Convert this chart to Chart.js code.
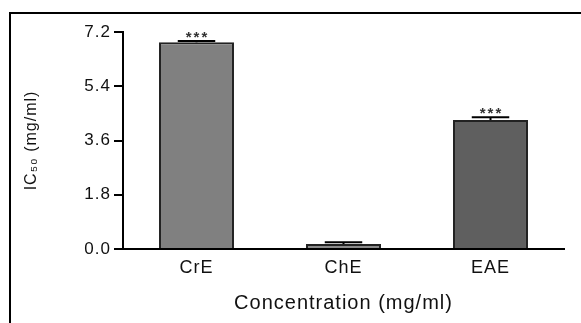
<!DOCTYPE html>
<html>
<head>
<meta charset="utf-8">
<script src="https://cdn.jsdelivr.net/npm/chart.js@4/dist/chart.umd.min.js"></script>
<style>
  html, body { margin: 0; padding: 0; background: #fff; overflow: hidden; }
  .frame { position: absolute; left: 9px; top: 12px; width: 620px; height: 400px; border: 2px solid #000; }
  .wrap { position: absolute; left: 0; top: 0; width: 581px; height: 323px; }
</style>
</head>
<body>
<div class="frame"></div>
<div class="wrap"><canvas id="ic50-chart" width="581" height="323"></canvas></div>
<script>
let extracts = ['CrE', 'ChE', 'EAE'];
let ic50_values = [6.86, 0.17, 4.28];
let ic50_errors = [0.04, 0.05, 0.09];
let significance = ['***', '', '***'];
let y_ticks = [0, 1.8, 3.6, 5.4, 7.2];
let bar_colors = ['#808080', '#8c8c8c', '#5f5f5f'];

let FONT = 'Liberation Sans, Arial, sans-serif';
let TEXT_COLOR = '#111';

// the original lettering is a bit wider than plain Arial
let wide_text = {
    id: 'wideText',
    beforeLayout: function(chart) { chart.ctx.letterSpacing = '1px'; },
    beforeDraw: function(chart) { chart.ctx.letterSpacing = '1px'; }
};

// draws the SEM caps and the *** markers above the bars
let error_bars = {
    id: 'errorBars',
    afterDatasetsDraw: function(chart) {
        let ctx = chart.ctx;
        let y = chart.scales.y;
        let meta = chart.getDatasetMeta(0);
        ctx.save();
        ctx.strokeStyle = '#000';
        ctx.fillStyle = '#333';
        ctx.lineWidth = 2;
        meta.data.forEach(function(bar, i) {
            let top = y.getPixelForValue(ic50_values[i] + ic50_errors[i]);
            let half = bar.width / 4;
            ctx.beginPath();
            ctx.moveTo(bar.x, bar.y);
            ctx.lineTo(bar.x, top);
            ctx.moveTo(bar.x - half, top);
            ctx.lineTo(bar.x + half, top);
            ctx.stroke();
            if (significance[i]) {
                ctx.font = 'bold 15px ' + FONT;
                ctx.letterSpacing = '2px';
                ctx.textAlign = 'center';
                ctx.textBaseline = 'middle';
                ctx.fillText(significance[i], bar.x + 1, top - 3);
            }
        });
        ctx.restore();
    }
};

window.onload = function() {
    let chart_element = document.getElementById('ic50-chart');
    new Chart(chart_element, {
        type: 'bar',
        plugins: [wide_text, error_bars],
        data: {
            labels: extracts,
            datasets: [{
                data: ic50_values,
                backgroundColor: bar_colors,
                borderColor: '#222',
                borderWidth: 2,
                barPercentage: 0.51,
                categoryPercentage: 1.0
            }]
        },
        options: {
            responsive: false,
            animation: false,
            layout: { padding: { top: 32, right: 17, bottom: 0, left: 0 } },
            plugins: {
                legend: { display: false },
                tooltip: { enabled: false }
            },
            scales: {
                x: {
                    grid: { display: false, drawTicks: true, tickLength: 8 },
                    border: { display: true, color: '#000', width: 2 },
                    ticks: { color: TEXT_COLOR, padding: 0, font: { family: FONT, size: 18 } },
                    title: {
                        display: true,
                        text: 'Concentration (mg/ml)',
                        color: TEXT_COLOR,
                        font: { family: FONT, size: 20 },
                        padding: { top: 0, bottom: 8 }
                    },
                    afterFit: function(scale) { scale.height = 74; }
                },
                y: {
                    min: 0,
                    max: 7.2,
                    afterBuildTicks: function(scale) {
                        scale.ticks = y_ticks.map(function(v) { return { value: v }; });
                    },
                    grid: { drawOnChartArea: false, drawTicks: true, tickLength: 9, color: '#000', lineWidth: 2 },
                    border: { display: true, color: '#000', width: 2 },
                    ticks: {
                        color: TEXT_COLOR,
                        padding: 3,
                        font: { family: FONT, size: 17 },
                        callback: function(v) { return Number(v).toFixed(1); }
                    },
                    title: {
                        display: true,
                        text: 'IC\u2085\u2080 (mg/ml)',
                        color: TEXT_COLOR,
                        font: { family: FONT, size: 16 },
                        padding: { top: 22, bottom: 0 }
                    },
                    afterFit: function(scale) { scale.width = 123; }
                }
            }
        }
    });
};
</script>
</body>
</html>
